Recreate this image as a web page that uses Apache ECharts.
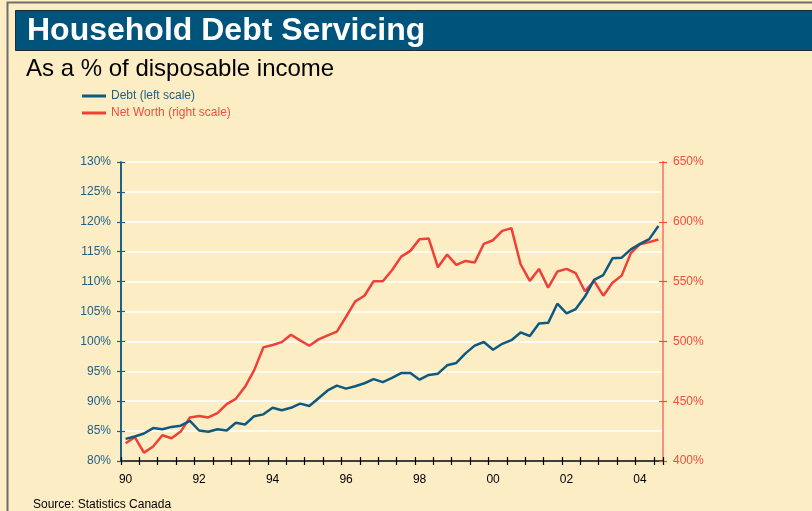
<!DOCTYPE html>
<html>
<head>
<meta charset="utf-8">
<script src="https://cdn.jsdelivr.net/npm/echarts@6/dist/echarts.min.js"></script>
<style>
  html, body { margin: 0; padding: 0; background: #fdedc5; }
  #chart { width: 812px; height: 511px; }
</style>
</head>
<body>
<div id="chart"></div>
<script>
// ---- Data ----
const years = ['90','91','92','93','94','95','96','97','98','99','00','01','02','03','04'];
const quarters = ['Q1','Q2','Q3','Q4'];
// Quarterly categories 1990Q1 .. 2004Q3
const categories = [];
years.forEach(function (y) {
  quarters.forEach(function (q) {
    if (!(y === '04' && q === 'Q4')) categories.push(y + q);
  });
});

// Debt, % of disposable income (left scale)
const debt = [
  83.7, 84.1, 84.6, 85.5, 85.3, 85.7, 85.9, 86.7,
  85.1, 84.9, 85.3, 85.1, 86.4, 86.1, 87.5, 87.8,
  88.9, 88.5, 88.9, 89.6, 89.2, 90.5, 91.8, 92.6,
  92.1, 92.5, 93.0, 93.7, 93.2, 93.9, 94.7, 94.7,
  93.6, 94.4, 94.6, 96.0, 96.4, 98.0, 99.3, 99.9,
  98.6, 99.6, 100.2, 101.5, 100.9, 103.0, 103.1, 106.3,
  104.7, 105.4, 107.5, 110.3, 111.1, 113.9, 114.0, 115.4,
  116.3, 117.1, 119.3
];

// Net worth, % of disposable income (right scale)
const netWorth = [
  414.8, 419.9, 407.0, 412.1, 421.5, 419.0, 424.6, 436.4,
  437.7, 436.4, 440.0, 447.5, 452.0, 462.0, 476.0, 495.0,
  497.0, 499.4, 505.6, 500.9, 496.4, 501.7, 505.0, 508.1,
  520.6, 533.5, 538.2, 550.3, 550.3, 559.5, 570.9, 575.7,
  585.5, 586.0, 562.0, 572.6, 564.0, 567.3, 565.9, 581.6,
  584.6, 592.4, 594.7, 564.5, 550.6, 560.6, 545.0, 558.4,
  560.6, 557.0, 541.9, 550.6, 538.2, 549.1, 555.0, 573.8,
  581.3, 583.0, 585.2
];

const seriesNames = ['Debt (left scale)', 'Net Worth (right scale)'];
const titleText = 'Household Debt Servicing';
const subtitleText = 'As a % of disposable income';
const sourceText = 'Source: Statistics Canada';

// ---- Styles ----
const BG = '#fdedc5';
const BLUE = '#0d5a80';
const BLUE_TXT = '#1f5f85';
const RED = '#ef4037';
const RED_TXT = '#f04e3e';
const RED_AXIS = '#f4917f';
const FONT = 'Liberation Sans, Arial, Helvetica, sans-serif';

const chart = echarts.init(document.getElementById('chart'), null, { renderer: 'canvas' });

function catAxis(inside, showLabel) {
  return {
    type: 'category',
    data: categories,
    boundaryGap: true,
    position: 'bottom',
    axisLine: { show: !inside, lineStyle: { color: '#000', width: 1.5 } },
    axisTick: { show: true, inside: inside, length: 4, interval: 1, lineStyle: { color: '#000', width: 1.2 } },
    axisLabel: {
      show: showLabel,
      interval: 7,
      margin: 13,
      color: '#000',
      fontFamily: FONT,
      fontSize: 12,
      formatter: function (v) { return v.slice(0, 2); }
    },
    splitLine: { show: false }
  };
}

function valAxis(pos, min, max, interval, color, lineColor, inside, showLabel, split) {
  return {
    type: 'value',
    position: pos,
    min: min,
    max: max,
    interval: interval,
    axisLine: { show: true, lineStyle: { color: lineColor, width: pos === 'right' ? 2 : 1.5 } },
    axisTick: { show: true, inside: inside, length: 4, lineStyle: { color: color, width: 1.2 } },
    axisLabel: {
      show: showLabel,
      margin: 10,
      color: color,
      fontFamily: FONT,
      fontSize: 12,
      formatter: '{value}%'
    },
    splitLine: { show: split, lineStyle: { color: '#ffffff', width: 1.5 } }
  };
}

const option = {
  backgroundColor: BG,
  animation: false,
  textStyle: { fontFamily: FONT },
  title: [
    {
      text: titleText,
      left: 27, top: 15, padding: 0,
      textStyle: { color: '#ffffff', fontSize: 32, fontWeight: 'bold', fontFamily: FONT }
    },
    {
      text: subtitleText,
      left: 26, top: 57, padding: 0,
      textStyle: { color: '#000000', fontSize: 24, fontWeight: 'normal', fontFamily: FONT }
    },
    {
      text: sourceText,
      left: 33, top: 499, padding: 0,
      textStyle: { color: '#000000', fontSize: 12, fontWeight: 'normal', fontFamily: FONT }
    }
  ],
  graphic: [
    {
      type: 'rect', z: -10, silent: true,
      shape: { x: 7.5, y: 2.5, width: 820, height: 530 },
      style: { fill: BG, stroke: '#6e6e6e', lineWidth: 2 }
    },
    {
      type: 'rect', z: -5, silent: true,
      shape: { x: 15.5, y: 10.5, width: 810, height: 40 },
      style: { fill: '#00537a', stroke: '#1c2a33', lineWidth: 1 }
    }
  ],
  legend: {
    orient: 'vertical',
    left: 82, top: 90, padding: 0,
    itemWidth: 24, itemHeight: 3, itemGap: 5,
    icon: 'rect',
    textStyle: { fontSize: 12, fontFamily: FONT },
    data: [
      { name: seriesNames[0], textStyle: { color: BLUE_TXT } },
      { name: seriesNames[1], textStyle: { color: RED_TXT } }
    ]
  },
  grid: { left: 121, right: 149, top: 162, bottom: 50, containLabel: false },
  xAxis: [catAxis(false, true), catAxis(true, false)],
  yAxis: [
    valAxis('left', 80, 130, 5, BLUE_TXT, BLUE, false, true, true),
    valAxis('right', 400, 650, 50, RED_TXT, RED_AXIS, false, true, false),
    valAxis('left', 80, 130, 5, BLUE_TXT, BLUE, true, false, false),
    valAxis('right', 400, 650, 50, RED_TXT, RED_AXIS, true, false, false)
  ],
  series: [
    {
      name: seriesNames[1], type: 'line', data: netWorth,
      xAxisIndex: 0, yAxisIndex: 1,
      symbol: 'none', z: 3,
      lineStyle: { color: RED, width: 2.5 }, itemStyle: { color: RED }
    },
    {
      name: seriesNames[0], type: 'line', data: debt,
      xAxisIndex: 0, yAxisIndex: 0,
      symbol: 'none', z: 4,
      lineStyle: { color: BLUE, width: 2.5 }, itemStyle: { color: BLUE }
    }
  ]
};

chart.setOption(option);
</script>
</body>
</html>
